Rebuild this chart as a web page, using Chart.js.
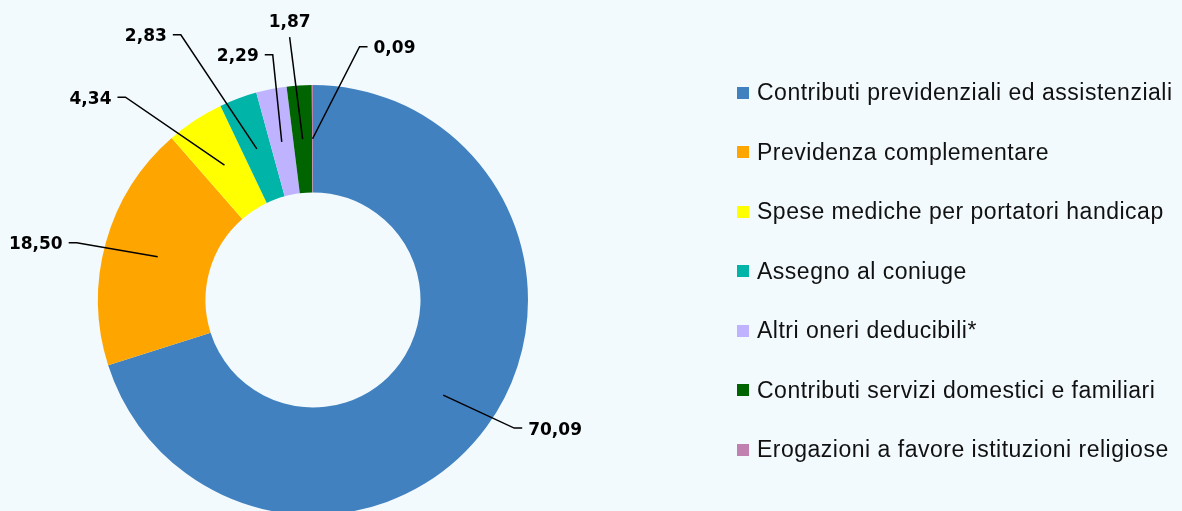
<!DOCTYPE html>
<html lang="it">
<head>
<meta charset="utf-8">
<title>Oneri deducibili</title>
<script src="https://cdn.jsdelivr.net/npm/chart.js@4/dist/chart.umd.min.js"></script>
<style>
    html, body {
        margin: 0;
        padding: 0;
        background: #f2fafd;
        overflow: hidden;
    }
    #wrap {
        position: relative;
        width: 1182px;
        height: 511px;
    }
    #oneriChart {
        position: absolute;
        left: 0;
        top: 0;
    }
    #legenda {
        position: absolute;
        left: 737px;
        top: 63px;
        font-family: "Liberation Sans", Arial, sans-serif;
        font-size: 23px;
        letter-spacing: 0.5px;
        color: #111;
    }
    #legenda .voce {
        height: 59.5px;
        display: flex;
        align-items: center;
        white-space: nowrap;
    }
    #legenda .box {
        width: 12px;
        height: 12px;
        margin-right: 8px;
        flex: none;
    }
</style>
</head>
<body>
<div id="wrap">
    <canvas id="oneriChart" width="1182" height="511"></canvas>
    <div id="legenda"></div>
</div>

<script>
// Categorie e valori (percentuali)
const categorie = [
    "Contributi previdenziali ed assistenziali",
    "Previdenza complementare",
    "Spese mediche per portatori handicap",
    "Assegno al coniuge",
    "Altri oneri deducibili*",
    "Contributi servizi domestici e familiari",
    "Erogazioni a favore istituzioni religiose"
];
const valori = [70.09, 18.50, 4.34, 2.83, 2.29, 1.87, 0.09];
const colori = ["#4281c0", "#ffa500", "#ffff00", "#00b5a8", "#bfb3ff", "#006400", "#c080b0"];

// Spostamento della linea guida rispetto al centro della fetta, e lato dell'etichetta
const offsetEtichette = [[71, 33], [-81, -14], [-99, -68], [-76, -114], [-9, -87], [-13, -102], [47, -92]];
const latoEtichette = ["right", "left", "left", "left", "left", "top", "right"];

// Numero con la virgola decimale
function formatValue(v) {
    return v.toFixed(2).replace(".", ",");
}

// Etichette dei valori con linea guida
const etichetteGuida = {
    id: "etichetteGuida",
    afterDatasetsDraw(chart) {
        const ctx = chart.ctx;
        const meta = chart.getDatasetMeta(0);
        ctx.save();
        ctx.strokeStyle = "#000";
        ctx.fillStyle = "#000";
        ctx.lineWidth = 1.5;
        ctx.font = 'bold 17px "DejaVu Sans"';
        ctx.textBaseline = "middle";
        meta.data.forEach((arc, i) => {
            const p = arc.tooltipPosition();
            const ex = p.x + offsetEtichette[i][0];
            const ey = p.y + offsetEtichette[i][1];
            const lato = latoEtichette[i];
            const testo = formatValue(valori[i]);

            ctx.beginPath();
            ctx.moveTo(p.x, p.y);
            ctx.lineTo(ex, ey);
            if (lato === "top") {
                ctx.stroke();
                ctx.textAlign = "center";
                ctx.fillText(testo, ex, ey - 15);
            } else {
                const dir = lato === "left" ? -1 : 1;
                ctx.lineTo(ex + dir * 8, ey);
                ctx.stroke();
                ctx.textAlign = lato === "left" ? "right" : "left";
                ctx.fillText(testo, ex + dir * 14, ey + 2);
            }
        });
        ctx.restore();
    }
};

// Legenda a destra
(function creaLegenda() {
    const container = document.getElementById("legenda");
    categorie.forEach((nome, i) => {
        const voce = document.createElement("div");
        voce.classList.add("voce");
        voce.innerHTML = `<span class="box" style="background:${colori[i]}"></span><span>${nome}</span>`;
        container.appendChild(voce);
    });
})();

const ctx = document.getElementById("oneriChart").getContext("2d");
new Chart(ctx, {
    type: "doughnut",
    data: {
        labels: categorie,
        datasets: [{
            data: valori,
            backgroundColor: colori,
            borderWidth: 0
        }]
    },
    options: {
        responsive: false,
        animation: false,
        radius: 215,
        cutout: "50%",
        layout: {
            padding: { left: 0, right: 556, top: 89, bottom: 0 }
        },
        plugins: {
            legend: { display: false },
            tooltip: { enabled: false }
        }
    },
    plugins: [etichetteGuida]
});
</script>
</body>
</html>
